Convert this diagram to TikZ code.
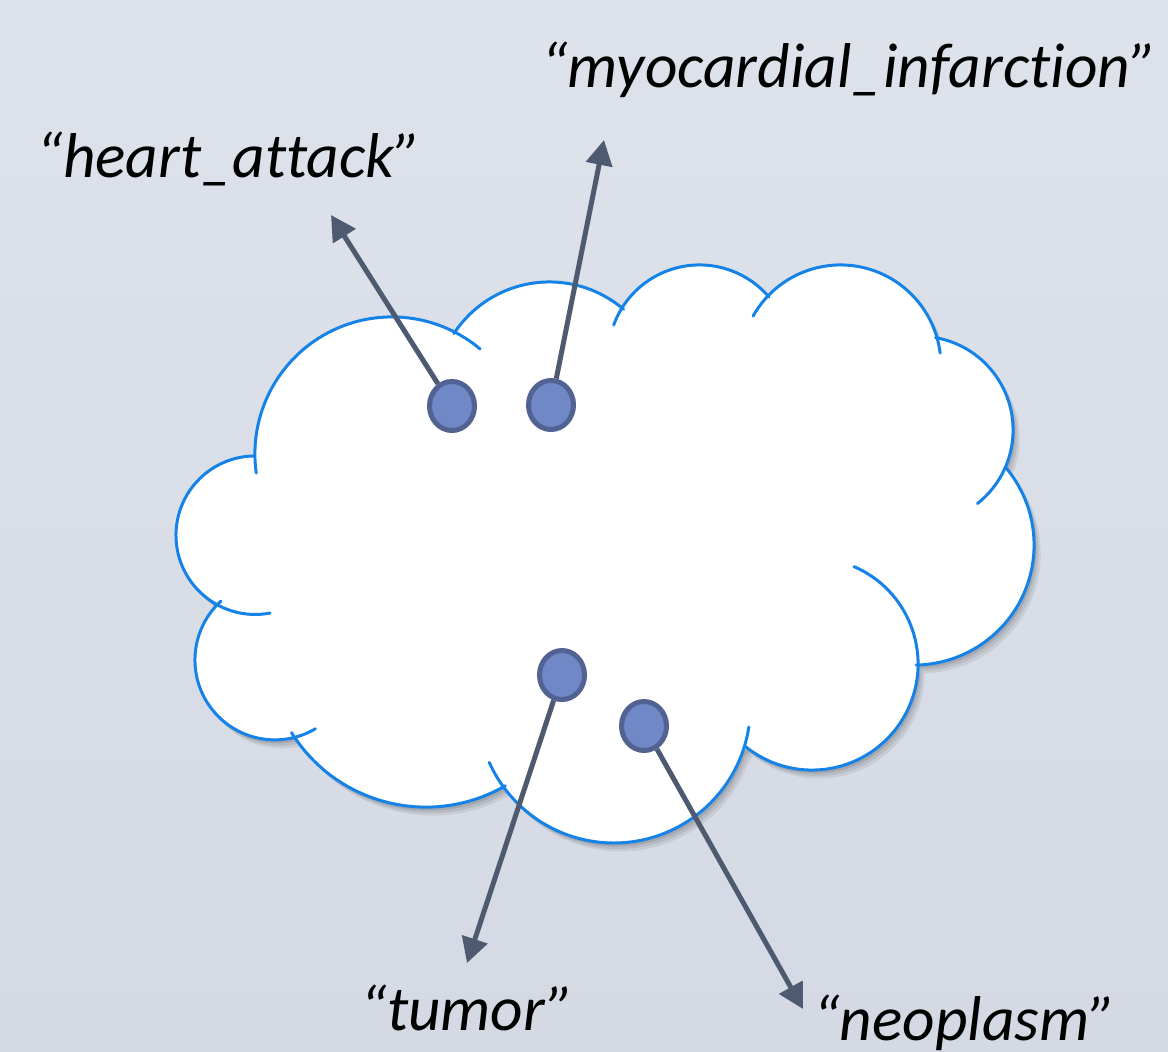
\documentclass[tikz,border=0pt]{standalone}
\usepackage{fontspec}
\setmainfont{Carlito}[Ligatures={NoCommon}]
\usetikzlibrary{calc,arrows.meta,shapes.geometric}
\definecolor{bgtop}{RGB}{222,226,235}
\definecolor{bgbot}{RGB}{212,217,227}
\definecolor{cloudblue}{RGB}{20,130,230}
\definecolor{dotfill}{RGB}{112,136,197}
\definecolor{dotline}{RGB}{82,98,147}
\definecolor{arrowcol}{RGB}{78,90,111}
\newcommand\cloudarc[4]{\draw[cloudline] ($(#1)+(#3:#2)$) arc[start angle=#3,end angle=#4,radius=#2];}
\begin{document}
\begin{tikzpicture}[x=0.01cm,y=0.01cm,
 cloudline/.style={draw=cloudblue, line width=0.85pt, line cap=round},
 dotnode/.style={ellipse, draw=dotline, fill=dotfill, line width=1.42pt, minimum width=0.45cm, minimum height=0.49cm, inner sep=0pt},
 arr/.style={draw=arrowcol, line width=1.42pt, -{Triangle[length=0.25cm,width=0.26cm]}},
 lbl/.style={font=\fontsize{18}{22}\selectfont\itshape, anchor=base west, inner sep=0pt, text=black}]
\shade[top color=bgtop, bottom color=bgbot] (0,0) rectangle (1168,1051);
\useasboundingbox (0,0) rectangle (1168,1051);

\coordinate (cA) at (392,597);
\coordinate (cB) at (549.4,654.9);
\coordinate (cC) at (699.5,694.7);
\coordinate (cD) at (840.5,685.7);
\coordinate (cE) at (919.3,621);
\coordinate (cF) at (914,506);
\coordinate (cG) at (812,387);
\coordinate (cH) at (613.8,344.6);
\coordinate (cI) at (425.9,402.4);
\coordinate (cJ) at (274.8,391);
\coordinate (cK) at (255.2,515.8);

% cloud body with soft shadow
\path[fill=white,
  preaction={fill=black, fill opacity=0.07, transform canvas={shift={(1.9pt,-2.4pt)}}},
  preaction={fill=black, fill opacity=0.08, transform canvas={shift={(1.3pt,-1.7pt)}}},
  preaction={fill=black, fill opacity=0.10, transform canvas={shift={(0.7pt,-1.0pt)}}}]
 ($(cA)+(181.7:1.37cm)$) arc[start angle=181.7,end angle=62.7,radius=1.37cm]
 -- ($(cB)+(145.8:1.141cm)$) arc[start angle=145.8,end angle=50.5,radius=1.141cm]
 -- ($(cC)+(148.1:0.913cm)$) arc[start angle=148.1,end angle=41.4,radius=0.913cm]
 -- ($(cD)+(136.3:1.003cm)$) arc[start angle=136.3,end angle=15.8,radius=1.003cm]
 -- ($(cE)+(79.1:0.937cm)$) arc[start angle=79.1,end angle=-24.8,radius=0.937cm]
 -- ($(cF)+(39.2:1.2cm)$) arc[start angle=39.2,end angle=-88.1,radius=1.2cm]
 -- ($(cG)+(0:1.06cm)$) arc[start angle=0,end angle=-127.8,radius=1.06cm]
 -- ($(cH)+(-19.8:1.365cm)$) arc[start angle=-19.8,end angle=-144,radius=1.365cm]
 -- ($(cI)+(-60.9:1.584cm)$) arc[start angle=-60.9,end angle=-147,radius=1.584cm]
 -- ($(cJ)+(-76.4:0.798cm)$) arc[start angle=-76.4,end angle=-226.6,radius=0.798cm]
 -- ($(cK)+(242.6:0.792cm)$) arc[start angle=242.6,end angle=91.6,radius=0.792cm]
 -- cycle;

% cloud outline with inner tails
\cloudarc{cA}{1.37cm}{188}{50}
\cloudarc{cB}{1.141cm}{146.8}{49.5}
\cloudarc{cC}{0.913cm}{160}{40.4}
\cloudarc{cD}{1.003cm}{150.6}{7}
\cloudarc{cE}{0.937cm}{80}{-51.7}
\cloudarc{cF}{1.2cm}{40.2}{-89}
\cloudarc{cG}{1.06cm}{66.7}{-128.8}
\cloudarc{cH}{1.365cm}{351.3}{204.2}
\cloudarc{cI}{1.584cm}{-59.9}{-148}
\cloudarc{cJ}{0.798cm}{-59.4}{-227.6}
\cloudarc{cK}{0.792cm}{280.8}{90.6}

% dots
\node[dotnode] (d1) at (452,645) {};
\node[dotnode] (d2) at (551,646) {};
\node[dotnode] (d3) at (562,376) {};
\node[dotnode] (d4) at (644,325) {};

% arrow tips
\coordinate (t1) at (331,836);
\coordinate (t2) at (604,911);
\coordinate (t3) at (467,88);
\coordinate (t4) at (803,42);

\draw[arr] (d1) -- (t1);
\draw[arr] (d2) -- (t2);
\draw[arr] (d3) -- (t3);
\draw[arr] (d4) -- (t4);

% labels
\node[lbl] (l1) at (36,873) {“heart\_attack”};
\node[lbl] (l2) at (541,963) {“myocardial\_infarction”};
\node[lbl] (l3) at (360,21) {“tumor”};
\node[lbl] (l4) at (813,11) {“neoplasm”};
\end{tikzpicture}
\end{document}
